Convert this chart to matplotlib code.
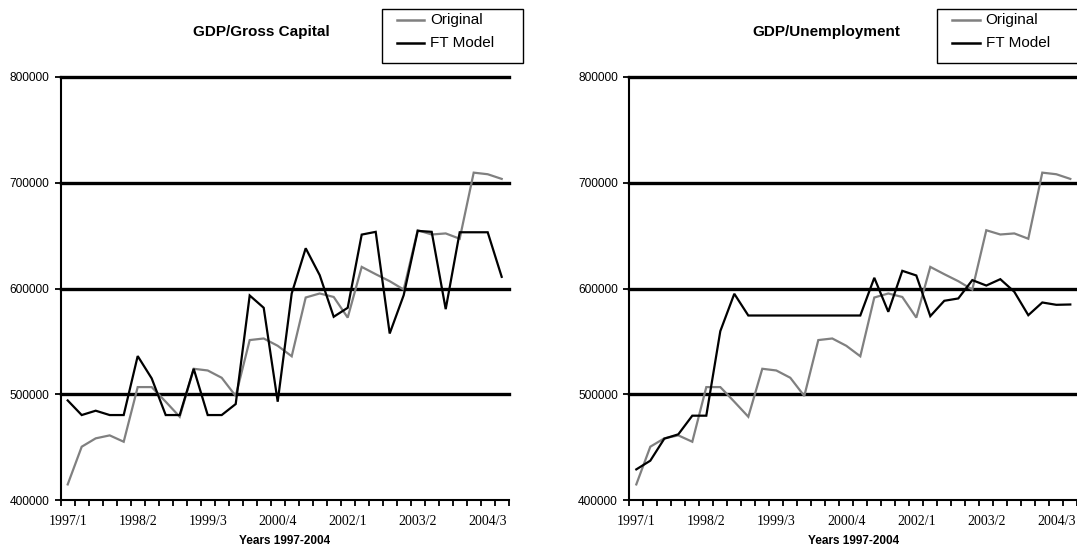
import matplotlib
matplotlib.use("Agg")
import matplotlib.pyplot as plt
from matplotlib.lines import Line2D
from matplotlib.patches import Rectangle
from matplotlib.ticker import FixedLocator, NullFormatter

plt.rcParams["font.family"] = ["Liberation Sans", "DejaVu Sans"]

# Quarterly periods 1997/1 .. 2004/4
quarters = [f"{y}/{q}" for y in range(1997, 2005) for q in range(1, 5)]
tick_labels = ["1997/1", "1998/2", "1999/3", "2000/4", "2002/1", "2003/2", "2004/3"]

gdp_original = [
    415000, 450600, 458500, 461300, 455300, 506900, 506900, 493100,
    478900, 524200, 522600, 515700, 498500, 551300, 552800, 545900,
    536000, 591500, 595300, 592000, 572500, 620400, 613500, 606900,
    599000, 655000, 651000, 652000, 647000, 709400, 707900, 703500,
]

ft_gross_capital = [
    494300, 480500, 484600, 480500, 480500, 536200, 515100, 480500,
    480500, 524200, 480500, 480500, 490900, 593400, 581800, 493100,
    595300, 638000, 612600, 573300, 581800, 650900, 653500, 557500,
    593700, 654400, 653500, 580500, 653100, 653100, 653100, 611000,
]

ft_unemployment = [
    429200, 437400, 458200, 462300, 479900, 479900, 559700, 595000,
    574500, 574500, 574500, 574500, 574500, 574500, 574500, 574500,
    574500, 610100, 578000, 616700, 612300, 573900, 588400, 590600,
    607900, 602800, 608800, 596900, 574800, 586800, 584600, 584900,
]

y_ticks = [400000, 500000, 600000, 700000, 800000]
grid_levels = [500000, 600000, 700000, 800000]

W, H = 1077, 550
fig = plt.figure(figsize=(W / 100, H / 100), dpi=100)


def px_rect(left, top, right, bottom):
    return [left / W, 1 - bottom / H, (right - left) / W, (bottom - top) / H]


def fx(px):
    return px / W


def fy(py):
    return 1 - py / H


def draw_legend(handles, left, top, width=141, height=54):
    """Boxed legend laid out in figure pixel coordinates."""
    fig.add_artist(Rectangle((fx(left), fy(top + height)), width / W, height / H,
                             transform=fig.transFigure, facecolor="white",
                             edgecolor="black", linewidth=1.0))
    rows = [top + 11, top + 34]
    for line, yrow in zip(handles, rows):
        fig.add_artist(Line2D([fx(left + 15), fx(left + 42.5)], [fy(yrow), fy(yrow)],
                              transform=fig.transFigure, color=line.get_color(),
                              linewidth=1.8))
        fig.text(fx(left + 48.5), fy(yrow), line.get_label(), ha="left",
                 va="center", fontsize=11)


def draw_panel(rect, model, title, title_xy, legend_xy):
    ax = fig.add_axes(rect)
    x = list(range(len(quarters)))
    for lvl in grid_levels:
        ax.axhline(lvl, color="black", linewidth=2.4, clip_on=False, zorder=1)
    l1, = ax.plot(x, gdp_original, color="#808080", linewidth=1.6,
                  label="Original", zorder=3, solid_joinstyle="miter")
    l2, = ax.plot(x, model, color="black", linewidth=1.6,
                  label="FT Model", zorder=4, solid_joinstyle="miter")
    ax.set_xlim(-0.5, len(quarters) - 0.5)
    ax.set_ylim(400000, 800000)

    for side in ("top", "right"):
        ax.spines[side].set_visible(False)
    for side in ("left", "bottom"):
        ax.spines[side].set_linewidth(1.5)

    ax.set_yticks(y_ticks)
    ax.set_yticklabels([str(v) for v in y_ticks], fontsize=8.6)
    ax.tick_params(axis="y", direction="out", length=4, width=1.3, pad=4.3)

    label_pos = [quarters.index(t) for t in tick_labels]
    ax.set_xticks(label_pos)
    ax.set_xticklabels(tick_labels, fontsize=10,
                       fontfamily=["Liberation Serif", "DejaVu Serif"])
    ax.tick_params(axis="x", which="major", length=0, pad=10.5)
    ax.xaxis.set_minor_locator(FixedLocator([i - 0.5 for i in range(len(quarters) + 1)]))
    ax.xaxis.set_minor_formatter(NullFormatter())
    ax.tick_params(axis="x", which="minor", direction="out", length=4, width=1.3)

    ax.set_xlabel("Years 1997-2004", fontsize=8.5, fontweight="bold")
    ax.xaxis.set_label_coords(0.5, -0.083)

    fig.text(fx(title_xy[0]), fy(title_xy[1]), title, ha="center",
             va="center", fontsize=11, fontweight="bold")

    draw_legend([l1, l2], *legend_xy)
    return ax


draw_panel(px_rect(60.7, 76.7, 508.7, 500.3), ft_gross_capital,
           "GDP/Gross Capital", (261.5, 32), (381.7, 9))
draw_panel(px_rect(629.3, 76.7, 1077.3, 500.3), ft_unemployment,
           "GDP/Unemployment", (826, 32), (937, 9))

fig.savefig("out.png", dpi=100)
